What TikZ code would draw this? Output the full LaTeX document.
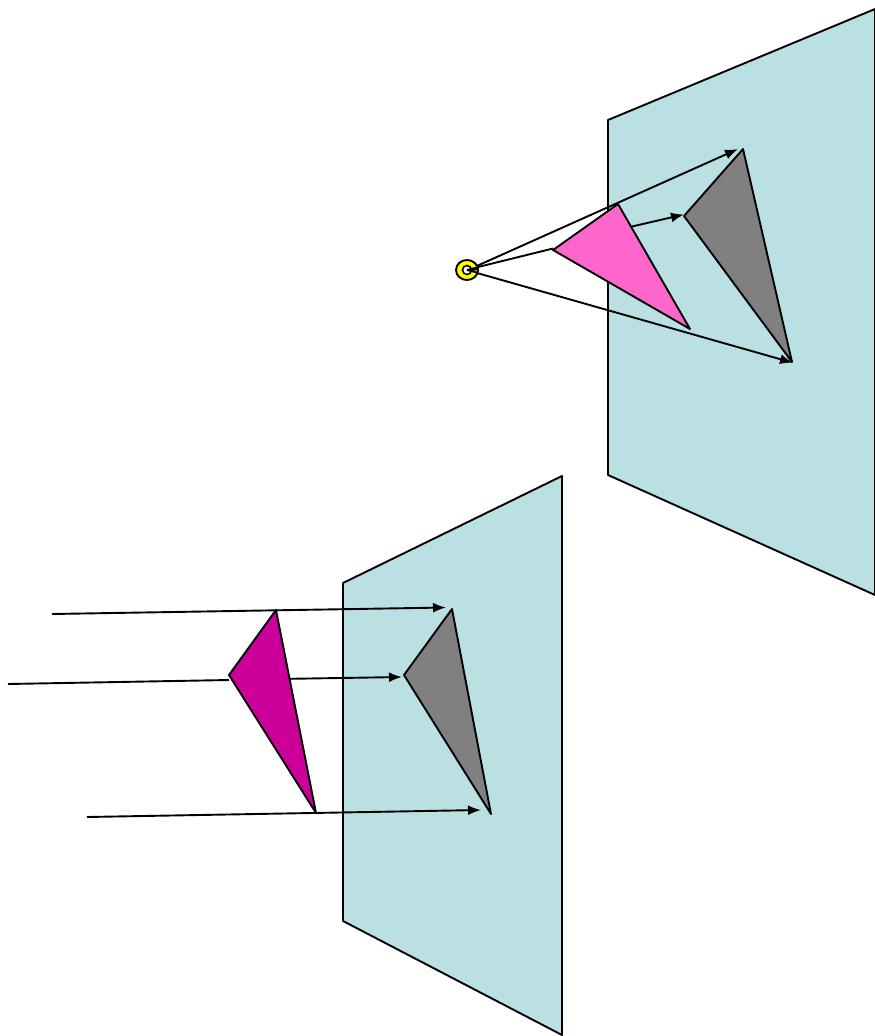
\documentclass[tikz,border=0pt]{standalone}
\usetikzlibrary{arrows.meta,shapes.geometric}
\definecolor{plane}{RGB}{187,224,227}
\definecolor{hotpink}{RGB}{255,102,204}
\definecolor{magentadark}{RGB}{204,0,153}
\definecolor{shadow}{RGB}{128,128,128}
\definecolor{eyeyellow}{RGB}{255,255,0}
\tikzset{
  outline/.style={draw=black,line width=1.9pt,line join=round},
  ray/.style={draw=black,line width=1.9pt},
  rayarrow/.style={ray,-{Latex[length=13pt,width=10pt]}},
}
\begin{document}
\begin{tikzpicture}[x=1pt,y=-1pt]
\useasboundingbox (0,0) rectangle (875,1036);
% named points
\coordinate (eye) at (467,270);
\coordinate (eyeA) at (470,269);
\coordinate (eyeB) at (470,269);
\coordinate (eyeC) at (470,271);
\coordinate (sA) at (738,149);
\coordinate (sB) at (684,214.5);
\coordinate (sC) at (793,362.8);
\coordinate (pB) at (553,248.5);
\coordinate (pBout) at (632,226.5);
\coordinate (l1) at (52,614);
\coordinate (l2) at (8,684);
\coordinate (l3) at (87,817);
\coordinate (t1) at (446,607.5);
\coordinate (t2) at (402,677);
\coordinate (t3) at (481,810);
\coordinate (m2) at (229,680);
\coordinate (m2out) at (290,678.8);
% top plane
\path[outline,fill=plane] (608,120) -- (875,9) -- (875,595) -- (608,475) -- cycle;
\path[outline,fill=shadow] (743,149) -- (684,216) -- (792,362) -- cycle;
\draw[rayarrow] (eyeC) -- (sC);
\draw[ray] (eyeB) -- (pB);
\draw[rayarrow] (pBout) -- (sB);
\path[outline,fill=hotpink] (618,204) -- (553,250) -- (690,329) -- cycle;
\draw[rayarrow] (eyeA) -- (sA);
% eye
\node[ellipse,draw=black,line width=1.9pt,fill=eyeyellow,minimum width=22pt,minimum height=20pt,inner sep=0pt] (eyering) at (eye) {};
\node[circle,draw=black,line width=1.6pt,fill=white,minimum size=9pt,inner sep=0pt] (eyepupil) at (eye) {};
\draw[ray] (eyepupil.center) -- (477,267.5) (eyepupil.center) -- (478,269) (eyepupil.center) -- (477,272.5);
% bottom plane
\path[outline,fill=plane] (343,583) -- (562,476) -- (562,1035) -- (343,921) -- cycle;
\path[outline,fill=shadow] (452,609) -- (404,675) -- (491,814) -- cycle;
\draw[rayarrow] (l1) -- (t1);
\draw[ray] (l2) -- (m2);
\draw[rayarrow] (m2out) -- (t2);
\draw[rayarrow] (l3) -- (t3);
\path[outline,fill=magentadark] (276,610) -- (229,675) -- (316,813) -- cycle;
\end{tikzpicture}
\end{document}
